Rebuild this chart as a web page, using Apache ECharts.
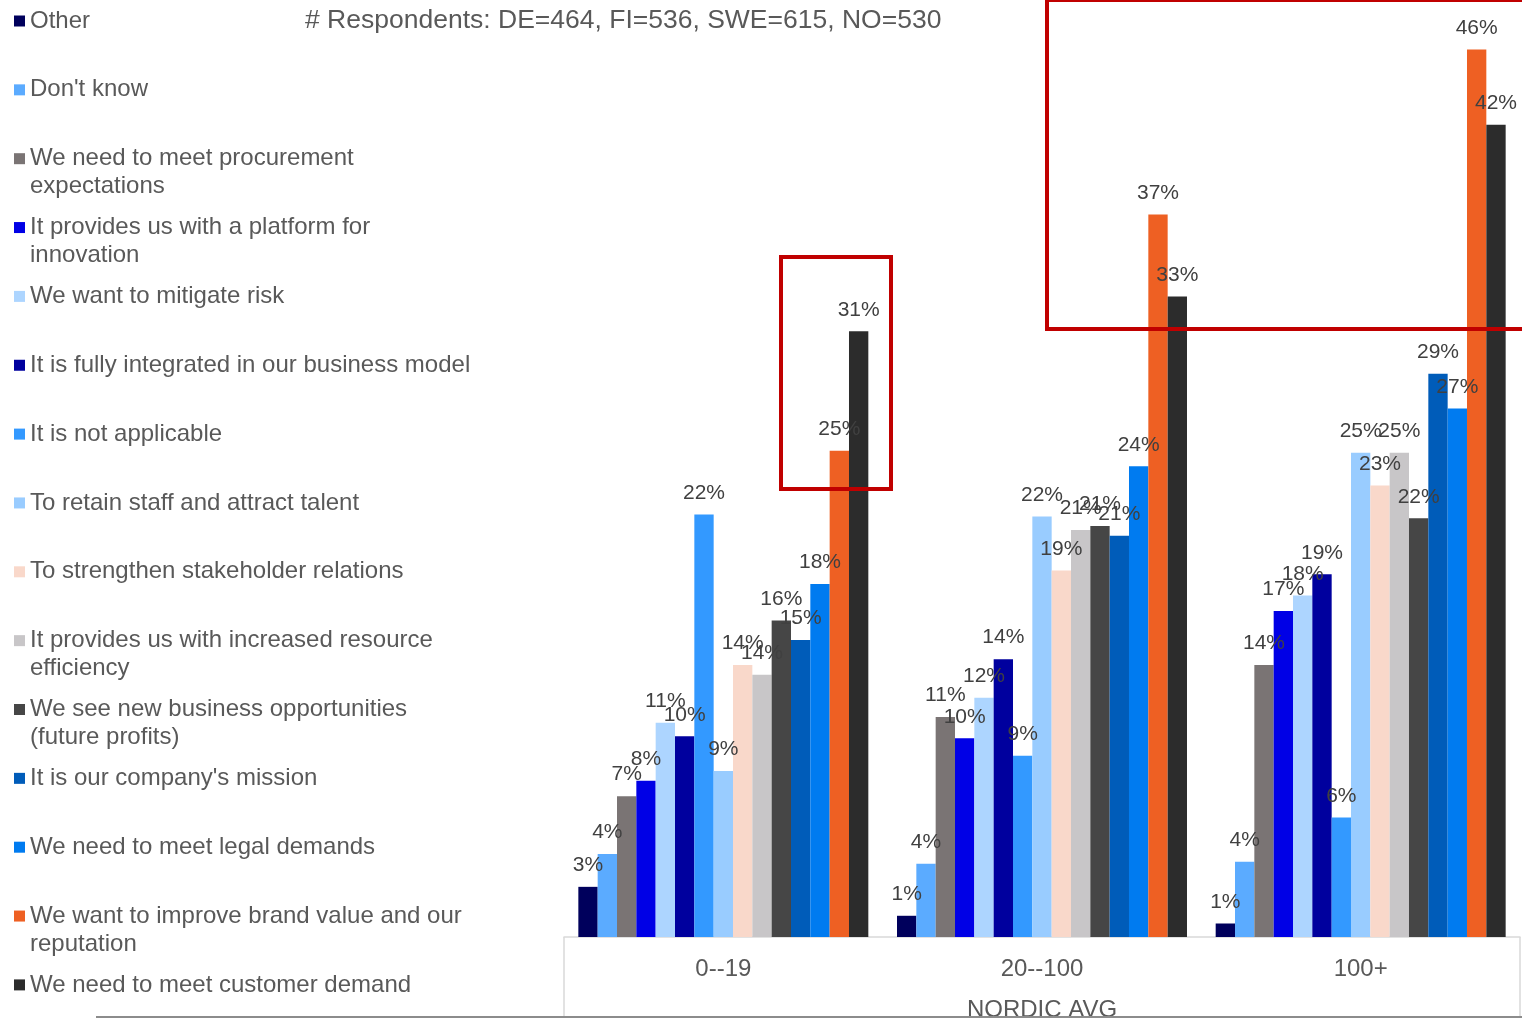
<!DOCTYPE html>
<html>
<head>
<meta charset="utf-8">
<script src="https://cdn.jsdelivr.net/npm/echarts@6/dist/echarts.min.js"></script>
<style>
html,body{margin:0;padding:0;background:#fff;}
#chart{width:1522px;height:1018px;}
</style>
</head>
<body>
<div id="chart"></div>
<script>
const categories = ['0--19', '20--100', '100+'];
const titleText = '# Respondents: DE=464, FI=536, SWE=615, NO=530';
const axisName = 'NORDIC AVG';

const seriesNames = [
  'Other',
  "Don't know",
  'We need to meet procurement expectations',
  'It provides us with a platform for innovation',
  'We want to mitigate risk',
  'It is fully integrated in our business model',
  'It is not applicable',
  'To retain staff and attract talent',
  'To strengthen stakeholder relations',
  'It provides us with increased resource efficiency',
  'We see new business opportunities (future profits)',
  "It is our company's mission",
  'We need to meet legal demands',
  'We want to improve brand value and our reputation',
  'We need to meet customer demand'
];
const legendLabels = [
  'Other',
  "Don't know",
  'We need to meet procurement\nexpectations',
  'It provides us with a platform for\ninnovation',
  'We want to mitigate risk',
  'It is fully integrated in our business model',
  'It is not applicable',
  'To retain staff and attract talent',
  'To strengthen stakeholder relations',
  'It provides us with increased resource\nefficiency',
  'We see new business opportunities\n(future profits)',
  "It is our company's mission",
  'We need to meet legal demands',
  'We want to improve brand value and our\nreputation',
  'We need to meet customer demand'
];
const seriesColors = ['#00005C','#5BABFF','#7A7474','#0000E6','#ADD5FF','#00009E','#3399FF','#99CCFF','#F9D8CA','#C8C6C8','#464646','#005CB9','#007BF0','#EE6023','#2C2C2C'];

// values in % for 0--19, 20--100, 100+
const other        = [2.6, 1.1, 0.7];
const dontKnow     = [4.3, 3.8, 3.9];
const procurement  = [7.3, 11.4, 14.1];
const platform     = [8.1, 10.3, 16.9];
const mitigateRisk = [11.1, 12.4, 17.7];
const integrated   = [10.4, 14.4, 18.8];
const notApplic    = [21.9, 9.4, 6.2];
const retainStaff  = [8.6, 21.8, 25.1];
const stakeholder  = [14.1, 19.0, 23.4];
const resourceEff  = [13.6, 21.1, 25.1];
const newBusiness  = [16.4, 21.3, 21.7];
const mission      = [15.4, 20.8, 29.2];
const legal        = [18.3, 24.4, 27.4];
const brandValue   = [25.2, 37.45, 46.0];
const customer     = [31.4, 33.2, 42.1];

const seriesValues = [other, dontKnow, procurement, platform, mitigateRisk, integrated, notApplic,
  retainStaff, stakeholder, resourceEff, newBusiness, mission, legal, brandValue, customer];

const FONT = '"Liberation Sans", Arial, sans-serif';
const chart = echarts.init(document.getElementById('chart'));

const legendPitch = 68.85;
const legends = seriesNames.map((n, i) => {
  const c = 20 + i * legendPitch;
  const two = legendLabels[i].indexOf('\n') >= 0;
  return {
    data: [n],
    orient: 'vertical',
    left: 14,
    top: two ? c - 41 : c - 13,
    padding: 0,
    itemWidth: 11,
    itemHeight: 11,
    itemGap: 0,
    icon: 'rect',
    selectedMode: false,
    formatter: () => (two ? '\n' : '') + legendLabels[i],
    textStyle: { fontFamily: FONT, fontSize: 24, color: '#595959', lineHeight: 28 }
  };
});

const series = seriesNames.map((n, i) => ({
  name: n,
  type: 'bar',
  data: seriesValues[i],
  barGap: '0%',
  barCategoryGap: '9%',
  itemStyle: { color: seriesColors[i] },
  label: {
    show: true,
    position: 'top',
    distance: 11,
    fontFamily: FONT,
    fontSize: 21,
    color: '#404040',
    formatter: p => Math.round(p.value) + '%'
  }
}));

chart.setOption({
  animation: false,
  backgroundColor: '#fff',
  title: {
    text: titleText,
    left: 305,
    top: 7,
    padding: 0,
    textStyle: { fontFamily: FONT, fontSize: 26.5, fontWeight: 'normal', color: '#595959' }
  },
  legend: legends,
  grid: { left: 564, right: 2, top: 11, bottom: 81, containLabel: false, outerBoundsMode: 'none' },
  xAxis: {
    type: 'category',
    data: categories,
    axisLine: { show: true, lineStyle: { color: '#D9D9D9', width: 1.5 } },
    axisTick: { show: false },
    axisLabel: { fontFamily: FONT, fontSize: 24, color: '#595959', margin: 20 },
    name: axisName,
    nameLocation: 'middle',
    nameGap: 61,
    nameTextStyle: { fontFamily: FONT, fontSize: 24, color: '#595959' }
  },
  yAxis: { type: 'value', min: 0, max: 48, show: false, splitLine: { show: false } },
  series: series,
  graphic: [
    { type: 'line', shape: { x1: 564, y1: 937, x2: 564, y2: 1018 }, style: { stroke: '#D9D9D9', lineWidth: 1.5 }, z: 10 },
    { type: 'line', shape: { x1: 1520, y1: 937, x2: 1520, y2: 1018 }, style: { stroke: '#D9D9D9', lineWidth: 1.5 }, z: 10 },
    { type: 'line', shape: { x1: 96, y1: 1017, x2: 1522, y2: 1017 }, style: { stroke: '#8C8C8C', lineWidth: 2 }, z: 11 },
    { type: 'rect', shape: { x: 781, y: 257, width: 110, height: 232 }, style: { fill: null, stroke: '#C00000', lineWidth: 4 }, z: 20 },
    { type: 'rect', shape: { x: 1047, y: 0, width: 490, height: 329 }, style: { fill: null, stroke: '#C00000', lineWidth: 4 }, z: 20 }
  ]
});
</script>
</body>
</html>
